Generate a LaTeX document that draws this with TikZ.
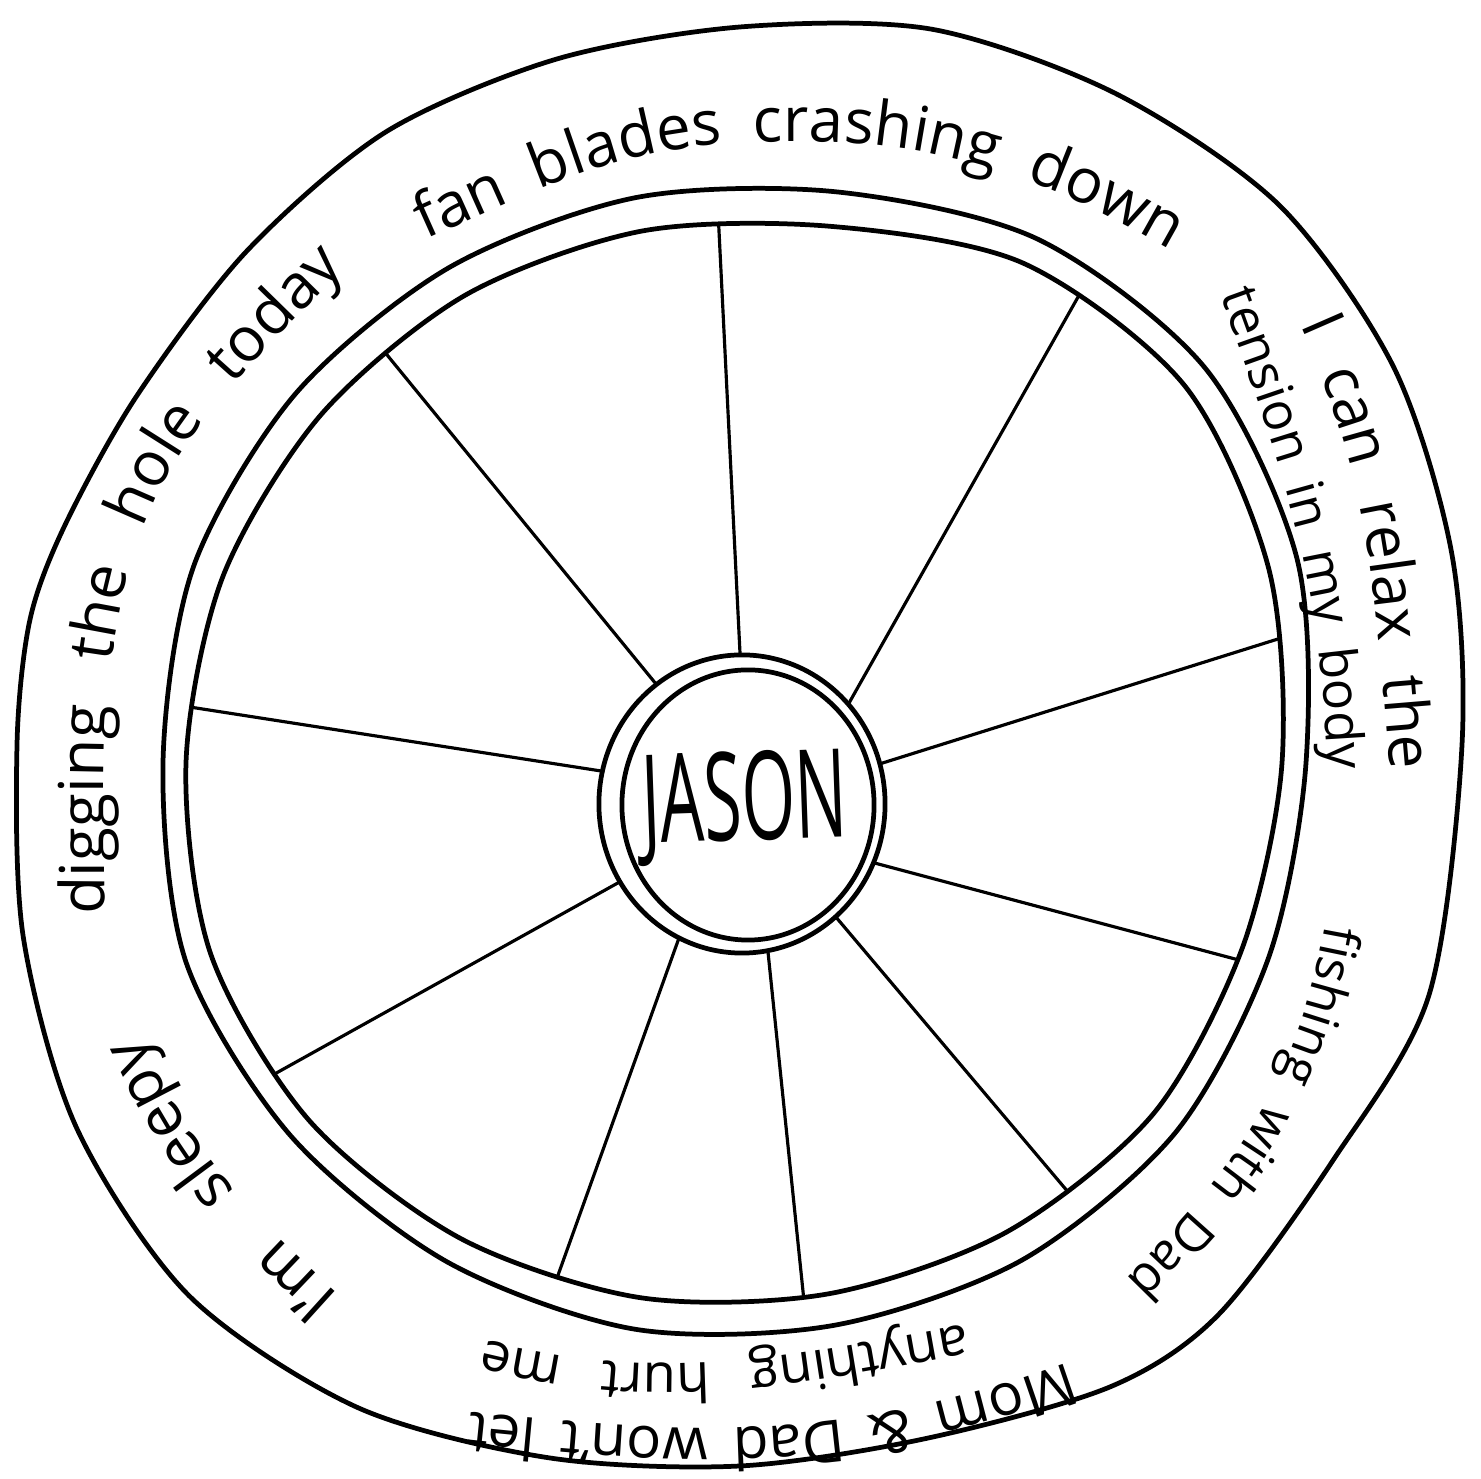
\documentclass[tikz,border=0pt]{standalone}
\usepackage{fontspec}
\setmainfont{Open Sans}
\usetikzlibrary{decorations.text, shapes.geometric}
\newcommand\fsA{\fontsize{17.6}{20}\selectfont}
\newcommand\fsB{\fontsize{17.2}{20}\selectfont}
\newcommand\fsC{\fontsize{14.8}{18}\selectfont}
\newcommand\fsD{\fontsize{14.6}{18}\selectfont}
\newcommand\fsE{\fontsize{16.6}{19}\selectfont}
\newcommand\fsF{\fontsize{15.4}{18}\selectfont}
\newcommand\fsG{\fontsize{17.6}{20}\selectfont}
\newcommand\fsH{\fontsize{17.6}{20}\selectfont}
\begin{document}
\begin{tikzpicture}[x=0.01cm, y=0.01cm, line cap=round, line join=round,
  wheelline/.style={line width=1.35pt},
  spokeline/.style={line width=0.9pt, shorten <=-12pt, shorten >=-12pt},
  hubline/.style={line width=1.35pt, ellipse, draw, inner sep=0pt},
  ringtext/.style={decorate, decoration={text along path, text align={fit to path stretching spaces}, text={#1}}}
]
\useasboundingbox (0,0) rectangle (1481,1479);
\fill[white] (0,0) rectangle (1481,1479);

% outer boundary of the wheel
\draw[wheelline, shift={(740,734)}] plot[smooth cycle] coordinates {(0:722) (15:737) (30:755) (45:763) (60:752) (75:741) (90:718) (105:710) (120:708) (135:698) (150:697) (162:710) (170:721) (180:723) (195:742) (210:766) (225:779) (240:765) (255:738) (270:721) (285:718) (300:741) (310:744) (325:724) (340:733)};

% rim: two lines
\draw[wheelline, shift={(735,716)}] plot[smooth cycle] coordinates {(0:571) (20:598) (40:614) (60:605) (80:580) (100:574) (120:572) (140:574) (160:576) (180:572) (200:584) (220:580) (240:576) (260:575) (280:571) (300:574) (320:575) (340:568)};
\draw[wheelline, shift={(735,716)}] plot[smooth cycle] coordinates {(0:547) (20:568) (40:587) (60:577) (80:545) (100:540) (120:540) (140:541) (160:545) (180:549) (200:558) (220:556) (240:549) (260:543) (280:539) (300:542) (320:546) (340:540)};

% spoke end points
\coordinate (r1) at (719,1248); \coordinate (h1) at (740,826);
\coordinate (r2) at (1082,1189); \coordinate (h2) at (853,783);
\coordinate (r3) at (1278,840); \coordinate (h3) at (889,718);
\coordinate (r4) at (1235,520); \coordinate (h4) at (882,614);
\coordinate (r5) at (1063,293); \coordinate (h5) at (846,550);
\coordinate (r6) at (804,178); \coordinate (h6) at (768,527);
\coordinate (r7) at (557,201); \coordinate (h7) at (679,541);
\coordinate (r8) at (271,403); \coordinate (h8) at (616,595);
\coordinate (r9) at (196,771); \coordinate (h9) at (601,708);
\coordinate (r10) at (392,1118); \coordinate (h10) at (656,795);

\begin{scope}
\clip[shift={(735,716)}] plot[smooth cycle] coordinates {(0:547) (20:568) (40:587) (60:577) (80:545) (100:540) (120:540) (140:541) (160:545) (180:549) (200:558) (220:556) (240:549) (260:543) (280:539) (300:542) (320:546) (340:540)};
\foreach \i in {1,...,10} {\draw[spokeline] (h\i) -- (r\i);}
\end{scope}

% hub
\node[hubline, fill=white, minimum width=2.86cm, minimum height=2.98cm] (hub) at (742,675) {};
\node[hubline, minimum width=2.52cm, minimum height=2.70cm] (hubinner) at (748,674) {};
\node[rotate=2] (name) at (745,672) {\scalebox{0.56}[1]{\fontsize{35}{38}\selectfont JASON}};

% texts round the rim
\path[ringtext={|\fsA|fan blades crashing down}] (425,1239) to[out=24,in=183] (740,1336) to[out=3,in=150] (1170,1229);
\path[ringtext={|\fsB|I can relax the}] (1300,1154) to[out=-66,in=95] (1390,709);
\path[ringtext={|\fsC|tension in my body}] (1220,1184) to[out=-70,in=92] (1328,709);
\path[ringtext={|\fsD|fishing with Dad}] (1325,554) to[out=-100,in=45] (1125,199);
\path[ringtext={|\fsE|Mom {\&} Dad won't let}] (1068,117) to[out=200,in=-6] (470,67);
\path[ringtext={|\fsF|anything hurt me}] (965,154) to[out=190,in=-14] (485,139);
\path[ringtext={|\fsG|I'm sleepy}] (340,184) to[out=138,in=-66] (140,444);
\path[ringtext={|\fsH|digging the hole today}] (104,564) to[out=89,in=-102] (122,879) to[out=78,in=-134] (345,1211);
\end{tikzpicture}
\end{document}
